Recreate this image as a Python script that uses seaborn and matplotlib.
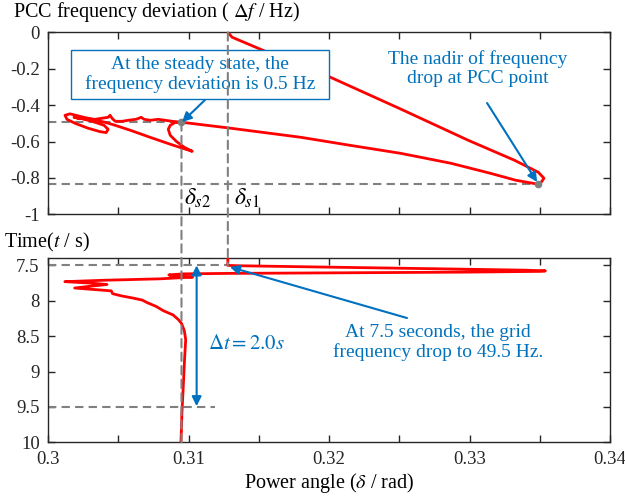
import numpy as np
import pandas as pd
import matplotlib
matplotlib.use('Agg')
import matplotlib.pyplot as plt
import seaborn as sns
from matplotlib.patches import ConnectionPatch, Rectangle

# ---------------- data ----------------
# Top: PCC frequency deviation vs power angle (trajectory order)
traj_delta = [0.3128, 0.3131, 0.3153, 0.3201, 0.3250, 0.3299, 0.3332, 0.3349, 0.3353, 0.3351, 0.3349,
              0.3333, 0.3315, 0.3287, 0.3251, 0.3215, 0.3180, 0.3130, 0.3096,
              0.30906, 0.30870, 0.30856, 0.30870, 0.30913, 0.30970, 0.31027,
              0.30870, 0.30727, 0.30585, 0.30478, 0.30406, 0.30314, 0.30228, 0.30157, 0.30121,
              0.30135, 0.30193, 0.30285, 0.30371, 0.30414, 0.30428, 0.30399, 0.30314, 0.30228,
              0.30185, 0.30214, 0.30335, 0.30428, 0.30442, 0.30456, 0.30478, 0.30528, 0.30570,
              0.30627, 0.30663, 0.30684, 0.30727, 0.30784, 0.30834, 0.30884, 0.30950]
traj_df = [0.0, -0.027, -0.099, -0.247, -0.418, -0.593, -0.703, -0.769, -0.802, -0.824, -0.835,
           -0.813, -0.775, -0.720, -0.665, -0.621, -0.577, -0.527, -0.495,
           -0.4945, -0.511, -0.533, -0.566, -0.599, -0.632, -0.654,
           -0.615, -0.577, -0.538, -0.511, -0.4945, -0.478, -0.462, -0.448, -0.456,
           -0.478, -0.500, -0.527, -0.546, -0.551, -0.533, -0.511, -0.489, -0.4725,
           -0.467, -0.4725, -0.478, -0.467, -0.456, -0.4725, -0.489, -0.489, -0.4835,
           -0.478, -0.467, -0.478, -0.4835, -0.478, -0.4835, -0.489, -0.495]

# Bottom: time vs power angle
time_delta = [0.3128, 0.3128, 0.3135, 0.3200, 0.3300, 0.3340, 0.3354, 0.3349, 0.3300, 0.3200,
              0.3130, 0.3096, 0.3086, 0.3090, 0.3103, 0.3080, 0.3040, 0.3012, 0.3030, 0.3042,
              0.3030, 0.3019, 0.3032, 0.3045, 0.3046, 0.3052, 0.3060, 0.3067, 0.3071, 0.3077,
              0.3082, 0.3089, 0.3093, 0.3095, 0.3097, 0.3098, 0.30977, 0.30970, 0.30965,
              0.30958, 0.30953, 0.30950, 0.30946]
time_t = [7.40, 7.50, 7.505, 7.525, 7.555, 7.568, 7.578, 7.585, 7.595, 7.606,
          7.613, 7.62, 7.635, 7.65, 7.665, 7.69, 7.71, 7.73, 7.75, 7.77,
          7.795, 7.82, 7.84, 7.86, 7.90, 7.93, 7.96, 7.99, 8.03, 8.08,
          8.14, 8.20, 8.27, 8.32, 8.42, 8.55, 8.65, 8.90, 9.12,
          9.40, 9.59, 9.80, 10.0]

delta_s1 = 0.3128
delta_s2 = 0.3095
df_steady = -0.495
nadir_delta = 0.3349
nadir_df = -0.835
t_step = 7.5
t_settle = 9.5

x_major = [0.30, 0.31, 0.32, 0.33, 0.34]
x_minor = [0.305, 0.315, 0.325, 0.335]
x_labels = ['0.3', '0.31', '0.32', '0.33', '0.34']
top_yticks = [0, -0.2, -0.4, -0.6, -0.8, -1]
top_ylabels = ['0', '-0.2', '-0.4', '-0.6', '-0.8', '-1']
bot_yticks = [7.5, 8, 8.5, 9, 9.5, 10]
bot_ylabels = ['7.5', '8', '8.5', '9', '9.5', '10']

# ---------------- style ----------------
sns.set_theme(style='ticks')
plt.rcParams['font.family'] = ['Liberation Serif', 'DejaVu Serif']
plt.rcParams['mathtext.fontset'] = 'stix'
plt.rcParams['axes.unicode_minus'] = False

RED = '#FF0000'
BLUE = '#0072BD'
ARROW = '#0070C0'
GREY = '#808080'
INK = '#262626'
DASH = (0, (4, 2.5))
ANN_FS = 14
LAB_FS = 14.5

fig = plt.figure(figsize=(6.25, 4.99), dpi=100)
ax1 = fig.add_axes([48/625, 1-214.3/499, 562/625, 182/499])
ax2 = fig.add_axes([48/625, 1-442.3/499, 562/625, 184/499])

top_df = pd.DataFrame({'delta': traj_delta, 'df': traj_df})
bot_df = pd.DataFrame({'delta': time_delta, 't': time_t})

sns.lineplot(data=top_df, x='delta', y='df', sort=False, estimator=None,
             color=RED, lw=2.0, ax=ax1, zorder=3)
sns.lineplot(data=bot_df, x='delta', y='t', sort=False, estimator=None,
             color=RED, lw=2.0, ax=ax2, zorder=3)

for ax in (ax1, ax2):
    ax.set_xlim(0.3, 0.34)
    ax.set_xticks(x_major)
    ax.set_xticks(x_minor, minor=True)
    ax.tick_params(which='both', direction='in', top=True, right=True,
                   length=5, width=1, colors=INK, labelsize=13.5, pad=6)
    for s in ax.spines.values():
        s.set_color(INK)
        s.set_linewidth(1.0)
    ax.set_xlabel('')
    ax.set_ylabel('')

ax1.set_ylim(-1, 0)
ax1.set_yticks(top_yticks)
ax1.set_yticklabels(top_ylabels)
ax1.tick_params(labelbottom=False)

ax2.set_ylim(10, 7.4)
ax2.set_yticks(bot_yticks)
ax2.set_yticklabels(bot_ylabels)
ax2.set_xticklabels(x_labels)

# ---------------- reference dashed lines ----------------
ax1.plot([0.3, delta_s2], [df_steady, df_steady], color=GREY, lw=1.5, ls=DASH, zorder=2)
ax1.plot([0.3, nadir_delta], [nadir_df, nadir_df], color=GREY, lw=1.5, ls=DASH, zorder=2)
ax2.plot([0.3, delta_s1], [t_step, t_step], color=GREY, lw=1.5, ls=DASH, zorder=2)
ax2.plot([0.3, 0.3119], [t_settle, t_settle], color=GREY, lw=1.5, ls=DASH, zorder=2)

for xa, ya, yb in [(delta_s1, 0.0, t_step), (delta_s2, df_steady, 10.0)]:
    con = ConnectionPatch(xyA=(xa, ya), coordsA=ax1.transData,
                          xyB=(xa, yb), coordsB=ax2.transData,
                          color=GREY, lw=1.5, linestyle=DASH, zorder=2)
    fig.add_artist(con)

ax1.plot([delta_s2], [df_steady], 'o', color=GREY, ms=4.5, zorder=4)
ax1.plot([nadir_delta], [nadir_df], 'o', color=GREY, ms=4.5, zorder=4)

# ---------------- annotations top ----------------
ax1.add_patch(Rectangle((0.30164, -0.3665), 0.32 - 0.30164, 0.3665 - 0.0973,
                        facecolor='white', edgecolor=BLUE, lw=1.0, zorder=5))
ax1.text(0.31082, -0.232, 'At the steady state, the\nfrequency deviation is 0.5 Hz',
         color=BLUE, fontsize=ANN_FS, ha='center', va='center', linespacing=1.15, zorder=6)
ax1.annotate('', xy=(0.30954, -0.493), xytext=(0.31117, -0.372),
             arrowprops=dict(arrowstyle='-|>', color=ARROW, lw=1.5,
                             mutation_scale=14, shrinkA=0, shrinkB=0), zorder=6)

ax1.text(0.3306, -0.199, 'The nadir of frequency\ndrop at PCC point',
         color=BLUE, fontsize=ANN_FS, ha='center', va='center', linespacing=1.15)
ax1.annotate('', xy=(0.33481, -0.8225), xytext=(0.33125, -0.3885),
             arrowprops=dict(arrowstyle='-|>', color=ARROW, lw=1.5,
                             mutation_scale=14, shrinkA=0, shrinkB=0))

ax1.text(0.30968, -0.91, r'$\delta_{s2}$', fontsize=17, color='black', ha='left', va='center')
ax1.text(0.31324, -0.91, r'$\delta_{s1}$', fontsize=17, color='black', ha='left', va='center')

# ---------------- annotations bottom ----------------
ax2.annotate('', xy=(0.31058, 7.5), xytext=(0.31058, 9.49),
             arrowprops=dict(arrowstyle='<|-|>', color=ARROW, lw=1.5,
                             mutation_scale=14, shrinkA=0, shrinkB=0))
ax2.text(0.31139, 8.625, r'$\Delta t=2.0s$', fontsize=15, color=BLUE, ha='left', va='center')

ax2.text(0.32776, 8.59, 'At 7.5 seconds, the grid\nfrequency drop to 49.5 Hz.',
         color=BLUE, fontsize=ANN_FS, ha='center', va='center', linespacing=1.15)
ax2.annotate('', xy=(0.31295, 7.523), xytext=(0.32555, 8.244),
             arrowprops=dict(arrowstyle='-|>', color=ARROW, lw=1.5,
                             mutation_scale=14, shrinkA=0, shrinkB=0))

# ---------------- axis titles ----------------
fig.text(13/625, 1-12/499, r'PCC frequency deviation ( $\mathit{\Delta f}$ / Hz)',
         fontsize=LAB_FS, color='black', ha='left', va='center')
fig.text(4/625, 1-242/499, r'Time($t$ / s)', fontsize=LAB_FS, color='black', ha='left', va='center')
fig.text(329/625, 1-483/499, r'Power angle ($\delta$ / rad)', fontsize=LAB_FS, color='black',
         ha='center', va='center')

fig.savefig('out.png', dpi=100)
